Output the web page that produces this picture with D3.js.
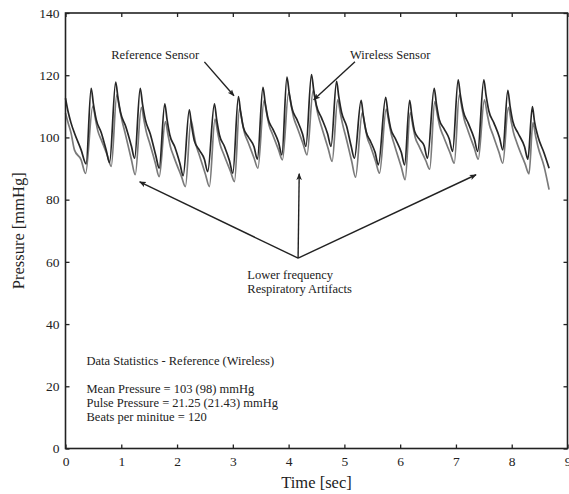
<!DOCTYPE html>
<html>
<head>
<meta charset="utf-8">
<script src="https://cdn.jsdelivr.net/npm/d3@7"></script>
<style>
  html, body { margin: 0; padding: 0; background: #fff; }
  svg { display: block; }
  text { font-family: "Liberation Serif", "Times New Roman", serif; fill: #222; }
</style>
</head>
<body>
<svg id="chart" width="569" height="494"></svg>
<script>
// Reference (catheter) sensor pressure trace, [time s, pressure mmHg]
const referenceTrace = [
  [0.00,112.6],[0.05,108.0],[0.10,104.6],[0.16,101.4],[0.28,96.0],[0.37,91.5],
  [0.46,115.8],[0.50,110.8],[0.55,105.8],[0.64,101.6],[0.73,95.9],[0.79,91.9],
  [0.90,117.8],[0.94,112.8],[0.99,107.8],[1.08,103.5],[1.18,97.3],[1.24,93.3],
  [1.34,115.8],[1.38,110.8],[1.43,105.8],[1.52,101.1],[1.62,94.1],[1.68,90.1],
  [1.78,110.8],[1.82,105.8],[1.87,100.8],[1.96,96.9],[2.05,91.7],[2.11,87.7],
  [2.22,108.9],[2.26,103.9],[2.31,98.9],[2.40,95.9],[2.49,93.0],[2.55,89.0],
  [2.67,110.8],[2.71,105.8],[2.76,100.8],[2.85,97.1],[2.94,92.5],[3.00,88.5],
  [3.10,113.1],[3.14,108.1],[3.19,103.1],[3.28,100.1],[3.38,97.0],[3.44,93.0],
  [3.54,116.1],[3.58,111.1],[3.63,106.1],[3.72,102.6],[3.82,98.4],[3.88,94.4],
  [3.97,119.4],[4.01,114.4],[4.06,109.4],[4.15,105.7],[4.25,101.1],[4.31,97.1],
  [4.41,120.2],[4.45,115.2],[4.50,110.2],[4.59,106.3],[4.70,101.1],[4.76,97.1],
  [4.86,118.0],[4.90,113.0],[4.95,108.0],[5.04,103.6],[5.12,97.3],[5.18,93.3],
  [5.30,111.9],[5.34,106.9],[5.39,101.9],[5.47,98.7],[5.55,95.2],[5.61,91.2],
  [5.74,112.9],[5.78,107.9],[5.83,102.9],[5.92,99.4],[6.02,95.2],[6.08,91.2],
  [6.17,111.9],[6.21,106.9],[6.26,101.9],[6.35,99.3],[6.43,97.3],[6.49,93.3],
  [6.61,115.8],[6.65,110.8],[6.70,105.8],[6.79,102.7],[6.88,99.5],[6.94,95.5],
  [7.04,118.5],[7.08,113.5],[7.13,108.5],[7.22,104.6],[7.33,99.5],[7.39,95.5],
  [7.50,118.5],[7.54,113.5],[7.59,108.5],[7.68,104.7],[7.78,100.0],[7.84,96.0],
  [7.93,115.1],[7.97,110.1],[8.02,105.1],[8.11,101.5],[8.23,97.0],[8.29,93.0],
  [8.37,109.9],[8.41,104.9],[8.47,100.3],[8.58,95.0],[8.67,90.1]
];

// Wireless implant pressure trace, [time s, pressure mmHg]
const wirelessTrace = [
  [0.00,107.8],[0.05,104.5],[0.10,101.4],[0.16,96.0],[0.28,92.8],[0.36,88.4],
  [0.49,110.1],[0.54,105.6],[0.58,102.1],[0.64,99.3],[0.75,94.2],[0.82,90.7],
  [0.92,113.7],[0.97,109.2],[1.01,105.7],[1.07,101.3],[1.18,93.0],[1.25,88.0],
  [1.36,109.7],[1.41,105.2],[1.45,101.7],[1.51,98.1],[1.61,91.8],[1.68,87.4],
  [1.79,105.1],[1.84,100.6],[1.88,97.1],[1.94,93.9],[2.08,87.4],[2.15,84.2],
  [2.25,105.6],[2.30,101.1],[2.34,97.6],[2.40,94.3],[2.51,88.1],[2.58,84.2],
  [2.68,105.9],[2.73,101.4],[2.77,97.9],[2.83,94.9],[2.96,89.0],[3.03,85.8],
  [3.12,109.4],[3.17,104.9],[3.21,101.4],[3.27,98.6],[3.38,93.4],[3.45,90.1],
  [3.56,111.9],[3.61,107.4],[3.65,103.9],[3.71,101.1],[3.82,96.0],[3.89,92.8],
  [4.00,114.4],[4.05,109.9],[4.09,106.4],[4.15,103.4],[4.26,97.9],[4.33,94.4],
  [4.44,115.1],[4.49,110.6],[4.53,107.1],[4.59,103.4],[4.71,96.4],[4.78,92.3],
  [4.88,112.1],[4.93,107.6],[4.97,104.1],[5.03,99.9],[5.13,92.4],[5.20,87.2],
  [5.32,108.0],[5.37,103.5],[5.41,100.0],[5.47,97.1],[5.56,92.3],[5.63,88.5],
  [5.75,109.1],[5.80,104.6],[5.84,101.1],[5.90,97.4],[6.02,90.5],[6.09,86.4],
  [6.18,108.0],[6.23,103.5],[6.27,100.0],[6.33,97.5],[6.46,92.5],[6.53,89.8],
  [6.62,111.5],[6.67,107.0],[6.71,103.5],[6.77,100.6],[6.90,94.8],[6.97,91.7],
  [7.06,113.7],[7.11,109.2],[7.15,105.7],[7.21,102.5],[7.33,96.5],[7.40,93.0],
  [7.51,112.1],[7.56,107.6],[7.60,104.1],[7.66,101.0],[7.77,95.3],[7.84,91.7],
  [7.94,109.7],[7.99,105.2],[8.03,101.7],[8.09,98.4],[8.24,91.5],[8.31,88.3],
  [8.38,104.8],[8.43,100.3],[8.47,97.1],[8.58,90.7],[8.67,83.2]
];

const xTicks = [0, 1, 2, 3, 4, 5, 6, 7, 8, 9];
const yTicks = [0, 20, 40, 60, 80, 100, 120, 140];

const statsLines = [
  "Data Statistics - Reference (Wireless)",
  "",
  "Mean Pressure = 103 (98) mmHg",
  "Pulse Pressure = 21.25 (21.43) mmHg",
  "Beats per minitue = 120"
];

// Annotation callouts in data units
const sensorArrows = [
  { label: "Reference Sensor", text: [0.82, 125.3], from: [2.49, 124.3], to: [3.02, 113.4] },
  { label: "Wireless Sensor",  text: [5.10, 125.3], from: [5.19, 124.3], to: [4.45, 112.1] }
];
const artifactOrigin = [4.17, 61.2];
const artifactTargets = [[1.33, 85.7], [4.19, 88.3], [7.36, 88.0]];
const artifactLabel = ["Lower frequency", "Respiratory Artifacts"];
const artifactLabelPos = [3.26, 54.4];

const svg = d3.select("#chart");
const margin = { left: 65.5, right: 1, top: 13, bottom: 45.5 };
const W = 569, H = 494;

const x = d3.scaleLinear().domain([0, 9]).range([margin.left, W - margin.right - 0.5]);
const y = d3.scaleLinear().domain([0, 140]).range([H - margin.bottom, margin.top]);

const ink = "#222";

// arrowhead marker
svg.append("defs").append("marker")
  .attr("id", "head")
  .attr("viewBox", "0 0 10 10")
  .attr("refX", 9).attr("refY", 5)
  .attr("markerWidth", 7).attr("markerHeight", 7)
  .attr("markerUnits", "userSpaceOnUse")
  .attr("orient", "auto")
  .append("path")
  .attr("d", "M0,1 L10,5 L0,9 L2.5,5 Z")
  .attr("fill", ink);

// traces
const line = d3.line().x(d => x(d[0])).y(d => y(d[1])).curve(d3.curveMonotoneX);

svg.append("path").datum(wirelessTrace)
  .attr("d", line).attr("fill", "none")
  .attr("stroke", "#7a7a7a").attr("stroke-width", 1.7)
  .attr("stroke-linejoin", "round");

svg.append("path").datum(referenceTrace)
  .attr("d", line).attr("fill", "none")
  .attr("stroke", "#262626").attr("stroke-width", 1.7)
  .attr("stroke-linejoin", "round");

// axes: inward ticks on all four sides
const x0 = x(0), x1 = x(9), yb = y(0), yt = y(140);
const tickLen = 4;

svg.append("g").attr("transform", `translate(0,${yb})`)
  .call(d3.axisBottom(x).tickValues(xTicks).tickSizeInner(-tickLen).tickSizeOuter(0).tickPadding(7).tickFormat(d3.format("d")))
  .call(g => g.select(".domain").remove())
  .call(g => g.selectAll(".tick line").attr("stroke", ink).attr("stroke-width", 1.3))
  .call(g => g.selectAll(".tick text").attr("font-size", 13.5).attr("font-family", "Liberation Serif").attr("fill", ink).attr("dy", "0.75em"));

svg.append("g").attr("transform", `translate(0,${yt})`)
  .call(d3.axisTop(x).tickValues(xTicks).tickSizeInner(-tickLen).tickSizeOuter(0).tickFormat(""))
  .call(g => g.select(".domain").remove())
  .call(g => g.selectAll(".tick line").attr("stroke", ink).attr("stroke-width", 1.3));

svg.append("g").attr("transform", `translate(${x0},0)`)
  .call(d3.axisLeft(y).tickValues(yTicks).tickSizeInner(-tickLen).tickSizeOuter(0).tickPadding(6))
  .call(g => g.select(".domain").remove())
  .call(g => g.selectAll(".tick line").attr("stroke", ink).attr("stroke-width", 1.3))
  .call(g => g.selectAll(".tick text").attr("font-size", 13.5).attr("font-family", "Liberation Serif").attr("fill", ink));

svg.append("g").attr("transform", `translate(${x1},0)`)
  .call(d3.axisRight(y).tickValues(yTicks).tickSizeInner(-tickLen).tickSizeOuter(0).tickFormat(""))
  .call(g => g.select(".domain").remove())
  .call(g => g.selectAll(".tick line").attr("stroke", ink).attr("stroke-width", 1.3));

// frame
svg.append("rect")
  .attr("x", x0).attr("y", yt)
  .attr("width", x1 - x0).attr("height", yb - yt)
  .attr("fill", "none").attr("stroke", ink).attr("stroke-width", 1.6);

// axis titles
svg.append("text")
  .attr("x", (x0 + x1) / 2).attr("y", 488)
  .attr("text-anchor", "middle").attr("font-size", 16.5)
  .text("Time [sec]");

svg.append("text")
  .attr("transform", `translate(24,${(yt + yb) / 2}) rotate(-90)`)
  .attr("text-anchor", "middle").attr("font-size", 16.5)
  .text("Pressure [mmHg]");

// sensor callouts
sensorArrows.forEach(a => {
  svg.append("text")
    .attr("x", x(a.text[0])).attr("y", y(a.text[1]))
    .attr("font-size", 12.5)
    .text(a.label);
  svg.append("line")
    .attr("x1", x(a.from[0])).attr("y1", y(a.from[1]))
    .attr("x2", x(a.to[0])).attr("y2", y(a.to[1]))
    .attr("stroke", ink).attr("stroke-width", 1.4)
    .attr("marker-end", "url(#head)");
});

// respiratory artifact callout
artifactTargets.forEach(t => {
  svg.append("line")
    .attr("x1", x(artifactOrigin[0])).attr("y1", y(artifactOrigin[1]))
    .attr("x2", x(t[0])).attr("y2", y(t[1]))
    .attr("stroke", ink).attr("stroke-width", 1.4)
    .attr("marker-end", "url(#head)");
});

svg.append("g").selectAll("text").data(artifactLabel).join("text")
  .attr("x", x(artifactLabelPos[0]))
  .attr("y", (d, i) => y(artifactLabelPos[1]) + i * 14)
  .attr("font-size", 12.5)
  .text(d => d);

// statistics block
svg.append("g").selectAll("text").data(statsLines).join("text")
  .attr("x", 86.5)
  .attr("y", (d, i) => 365 + i * 14)
  .attr("font-size", 12.5)
  .text(d => d);
</script>
</body>
</html>
